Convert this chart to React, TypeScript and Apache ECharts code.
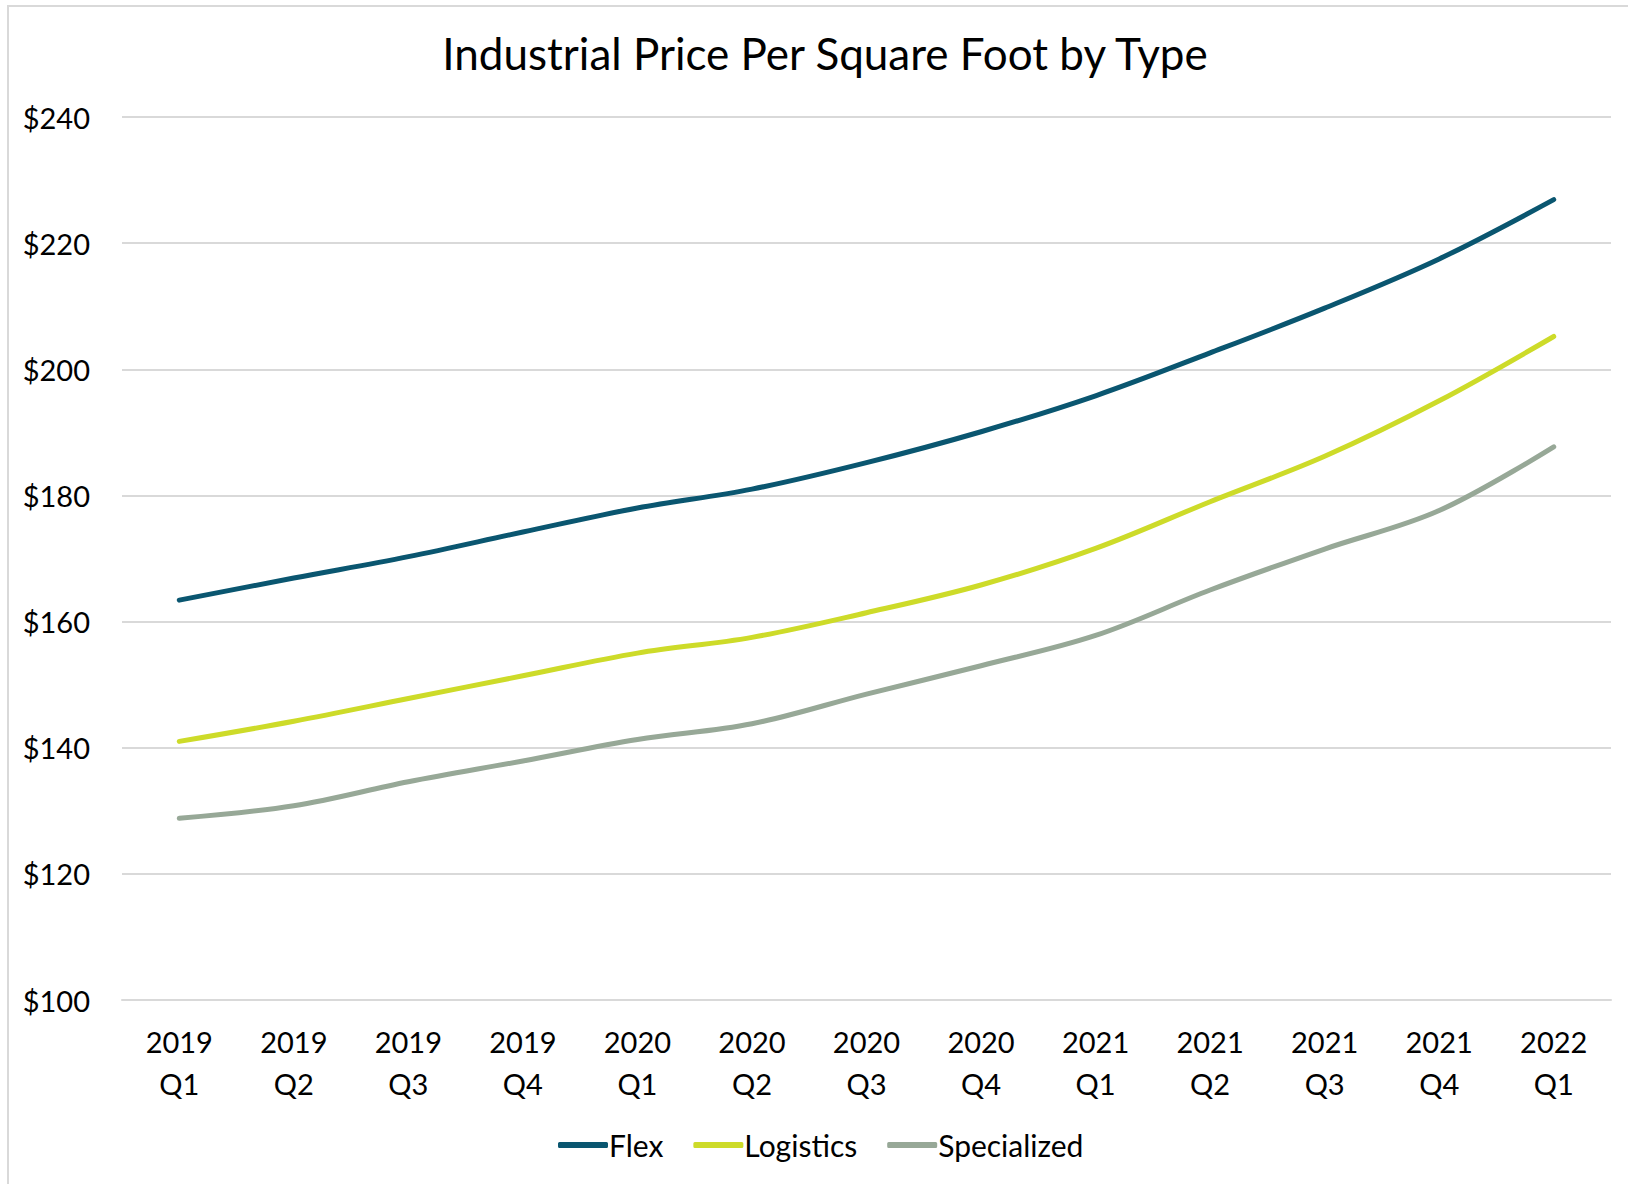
import React, { useEffect, useRef } from "react";
import * as echarts from "echarts";

const quarters = [
  "2019\nQ1", "2019\nQ2", "2019\nQ3", "2019\nQ4",
  "2020\nQ1", "2020\nQ2", "2020\nQ3", "2020\nQ4",
  "2021\nQ1", "2021\nQ2", "2021\nQ3", "2021\nQ4",
  "2022\nQ1",
];

const flex = [163.4, 166.9, 170.3, 174.2, 178.0, 181.0, 185.2, 190.1, 195.8, 202.6, 209.7, 217.5, 226.9];
const logistics = [141.0, 144.2, 147.8, 151.4, 155.0, 157.5, 161.4, 165.8, 171.6, 179.0, 186.2, 195.0, 205.2];
const specialized = [128.8, 130.8, 134.6, 137.9, 141.3, 143.8, 148.5, 153.0, 157.8, 165.0, 171.5, 177.6, 187.7];

const FONT = "Lato, 'Open Sans', sans-serif";
const GRID_GRAY = "#d9d9d9";

function lineSeries(name: string, data: number[], color: string) {
  return {
    name,
    type: "line",
    data,
    smooth: 0.35,
    showSymbol: false,
    symbol: "none",
    lineStyle: { color, width: 5, cap: "round", join: "round" },
    itemStyle: { color },
  };
}

export default function App() {
  const ref = useRef<HTMLDivElement>(null);

  useEffect(() => {
    document.body.style.margin = "0";
    document.body.style.overflow = "hidden";
    if (!ref.current) return;
    const chart = echarts.init(ref.current, null, { renderer: "svg" });
    chart.setOption({
      animation: false,
      backgroundColor: "#ffffff",
      title: {
        text: "Industrial Price Per Square Foot by Type",
        left: 820,
        textAlign: "center",
        top: 26,
        textStyle: { fontFamily: FONT, fontSize: 44, fontWeight: "normal", color: "#000000" },
      },
      grid: { left: 122, right: 17, top: 117, bottom: 184, containLabel: false },
      legend: {
        left: 553,
        top: 1125,
        icon: "roundRect",
        itemWidth: 50,
        itemHeight: 6,
        itemGap: 30,
        textStyle: { fontFamily: FONT, fontSize: 30, color: "#000000", padding: [0, 0, 0, -4] },
        data: ["Flex", "Logistics", "Specialized"],
      },
      xAxis: {
        type: "category",
        data: quarters,
        boundaryGap: true,
        axisLine: { show: true, lineStyle: { color: GRID_GRAY, width: 2 } },
        axisTick: { show: false },
        axisLabel: {
          fontFamily: FONT,
          fontSize: 29,
          color: "#000000",
          lineHeight: 42,
          margin: 20,
          interval: 0,
        },
      },
      yAxis: {
        type: "value",
        min: 100,
        max: 240,
        interval: 20,
        axisLine: { show: false },
        axisTick: { show: false },
        splitLine: { lineStyle: { color: GRID_GRAY, width: 2 } },
        axisLabel: {
          fontFamily: FONT,
          fontSize: 29,
          color: "#000000",
          margin: 32,
          formatter: (v: number) => "$" + v,
        },
      },
      graphic: [
        { type: "line", shape: { x1: 7, y1: 6, x2: 1628, y2: 6 }, style: { stroke: GRID_GRAY, lineWidth: 2 } },
        { type: "line", shape: { x1: 8, y1: 5, x2: 8, y2: 1184 }, style: { stroke: GRID_GRAY, lineWidth: 2 } },
      ],
      series: [
        lineSeries("Flex", flex, "#0a5670"),
        lineSeries("Logistics", logistics, "#cddb29"),
        lineSeries("Specialized", specialized, "#97a897"),
      ],
    });
    return () => chart.dispose();
  }, []);

  return <div ref={ref} style={{ width: 1628, height: 1184 }} />;
}
